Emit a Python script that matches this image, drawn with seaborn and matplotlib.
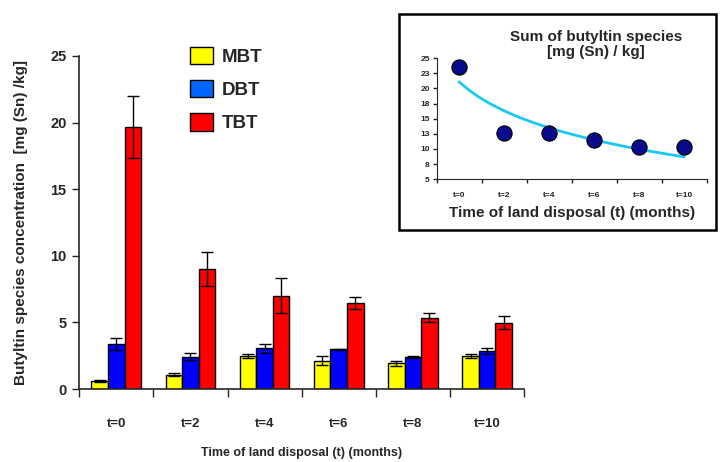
import matplotlib
matplotlib.use('Agg')
import matplotlib.pyplot as plt
from matplotlib.patches import Patch, Rectangle
import seaborn as sns
import pandas as pd
import numpy as np

# data
times = ['t=0', 't=2', 't=4', 't=6', 't=8', 't=10']
species = ['MBT', 'DBT', 'TBT']
mbt = [0.6, 1.07, 2.48, 2.13, 1.93, 2.48]
mbt_err = [0.05, 0.1, 0.15, 0.35, 0.2, 0.15]
dbt = [3.35, 2.43, 3.05, 2.98, 2.4, 2.85]
dbt_err = [0.45, 0.25, 0.35, 0.02, 0.05, 0.25]
tbt = [19.65, 9.0, 7.0, 6.43, 5.35, 4.98]
tbt_err = [2.35, 1.25, 1.3, 0.45, 0.33, 0.5]
total = [23.6, 12.7, 12.7, 11.5, 10.3, 10.3]
main_yticks = [0, 5, 10, 15, 20, 25]
inset_yticks = [5, 7.5, 10, 12.5, 15, 17.5, 20, 22.5, 25]
inset_yticklabels = ['5', '8', '10', '13', '15', '18', '20', '23', '25']

bar_colors = ['#FFFF00', '#0000FF', '#FF0000']
legend_colors = ['#FFFF00', '#0066FF', '#FF0000']

sns.set_style('white')
plt.rcParams['font.family'] = ['Liberation Sans', 'DejaVu Sans']
plt.rcParams['font.weight'] = 'bold'

df = pd.DataFrame({
    'time': times * 3,
    'species': [s for s in species for _ in times],
    'value': mbt + dbt + tbt,
})
errs = [mbt_err, dbt_err, tbt_err]
vals = [mbt, dbt, tbt]

fig = plt.figure(figsize=(7.2, 4.62), dpi=100)
ax = fig.add_axes([0.110, 0.158, 0.618, 0.721])

sns.barplot(data=df, x='time', y='value', hue='species', palette=bar_colors,
            width=0.67, edgecolor='black', linewidth=1, errorbar=None,
            saturation=1, legend=False, ax=ax)

for cont, v, e in zip(ax.containers, vals, errs):
    xs = [b.get_x() + b.get_width() / 2 for b in cont]
    ax.errorbar(xs, v, yerr=e, fmt='none', ecolor='black', elinewidth=1,
                capsize=4.5, capthick=1)

ax.set_xlim(-0.5, 5.5)
ax.set_ylim(0, 25)
ax.set_yticks(main_yticks)
ax.tick_params(axis='y', left=True, length=5, width=1, labelsize=10.5, pad=4)
ax.set_xticks(np.arange(-0.5, 6, 1))
ax.set_xticklabels([])
ax.set_xticks(range(len(times)), minor=True)
ax.set_xticklabels(times, minor=True)
ax.tick_params(axis='x', which='major', bottom=True, length=6, width=1,
               direction='out')
ax.tick_params(axis='x', which='minor', length=0, labelsize=9.5, pad=21)
for s in ['top', 'right']:
    ax.spines[s].set_visible(False)
for s in ['left', 'bottom']:
    ax.spines[s].set_linewidth(1.2)
ax.set_xlabel('Time of land disposal (t) (months)', fontsize=9,
              fontweight='bold', labelpad=12)
ax.set_ylabel('Butyltin species concentration  [mg (Sn) /kg]', fontsize=11,
              fontweight='bold', labelpad=16)

handles = [Patch(facecolor=c, edgecolor='black', linewidth=1) for c in legend_colors]
ax.legend(handles, species, loc='upper left', bbox_to_anchor=(0.24, 0.935),
          bbox_transform=fig.transFigure, frameon=False,
          handlelength=1.25, handleheight=1.05, labelspacing=0.75,
          handletextpad=0.45, prop={'weight': 'bold', 'size': 13.5})

# inset panel
fig.add_artist(Rectangle((0.554, 0.502), 0.440, 0.468, transform=fig.transFigure,
                         fill=False, lw=1.8, ec='black'))
ax_in = fig.add_axes([0.6065, 0.612, 0.375, 0.262])
xi = np.arange(len(times))
coef = np.polyfit(np.log(xi + 1), total, 1)
xfit = np.linspace(0, 5, 60)
sns.lineplot(x=xfit, y=np.polyval(coef, np.log(xfit + 1)), color='#19C8F5',
             lw=2, ax=ax_in)
sns.scatterplot(x=xi, y=total, s=120, color='#0A0A8C', edgecolor='black',
                linewidth=0.8, zorder=3, ax=ax_in)
ax_in.set_xlim(-0.5, 5.5)
ax_in.set_ylim(5, 25)
ax_in.set_yticks(inset_yticks)
ax_in.set_yticklabels(inset_yticklabels)
ax_in.tick_params(axis='y', left=True, length=3, width=1, labelsize=6, pad=2)
ax_in.set_xticks(np.arange(-0.5, 6, 1))
ax_in.set_xticklabels([])
ax_in.set_xticks(xi, minor=True)
ax_in.set_xticklabels(times, minor=True)
ax_in.tick_params(axis='x', which='major', bottom=True, length=3, width=1,
                  direction='out')
ax_in.tick_params(axis='x', which='minor', length=0, labelsize=6, pad=9)
for s in ['top', 'right']:
    ax_in.spines[s].set_visible(False)
ax_in.set_xlabel('Time of land disposal (t) (months)', fontsize=11,
                 fontweight='bold', labelpad=5)
fig.text(0.828, 0.904, 'Sum of butyltin species\n[mg (Sn) / kg]', ha='center',
         va='center', fontsize=11, fontweight='bold', linespacing=1.1)

fig.savefig('out.png', dpi=100)
